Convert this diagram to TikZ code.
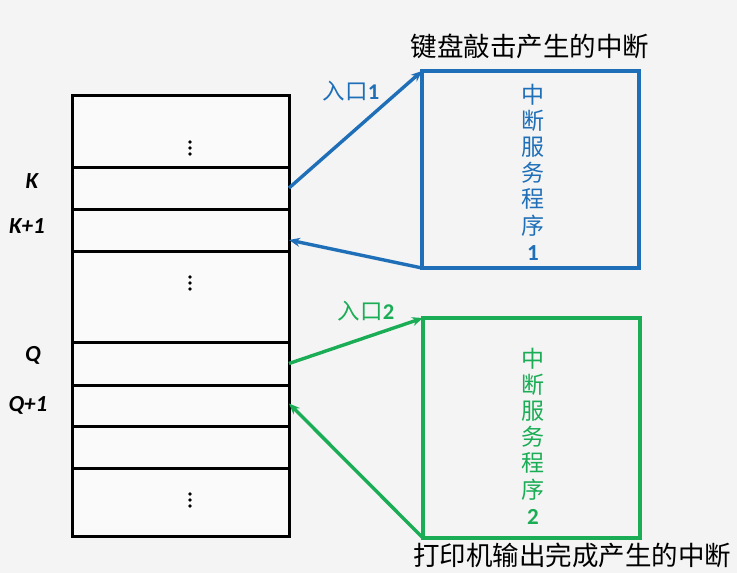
\documentclass[tikz,border=0pt]{standalone}
\usepackage{fontspec}
\newfontfamily\cjk{Noto Sans CJK SC}
\newfontfamily\calfont{Carlito}
\usetikzlibrary{arrows.meta}
\definecolor{ibl}{HTML}{1F6FB8}
\definecolor{igr}{HTML}{1AAD55}
\definecolor{bgc}{HTML}{F4F4F4}
\definecolor{cellc}{HTML}{FAFAFA}
\begin{document}
\begin{tikzpicture}[x=1pt,y=-1pt,
  rowbox/.style={draw=black, line width=3pt, fill=cellc, minimum width=217pt,
    anchor=north west, inner sep=0pt, outer sep=0pt},
  isrbox/.style={line width=3.4pt, minimum width=217pt, anchor=north west,
    inner sep=0pt, outer sep=0pt},
  addr/.style={font=\calfont\bfseries\itshape\fontsize{23}{25}\selectfont, anchor=center},
  vtext/.style={align=center, font=\cjk\fontsize{23}{26.2}\selectfont, anchor=center},
  caption/.style={font=\cjk\fontsize{26.5}{29}\selectfont, anchor=center},
  entry/.style={font=\fontsize{22.5}{24}\selectfont, anchor=center},
  arr/.style={line width=3.4pt, -{Stealth[length=11pt,width=9pt]}},
  dotc/.style={fill=black}
]
\useasboundingbox[fill=bgc] (0,0) rectangle (737,573);

% table rows
\node[rowbox, minimum height=72pt] (r1) at (72,95) {};
\node[rowbox, minimum height=42pt] (r2) at (72,167) {};
\node[rowbox, minimum height=42pt] (r3) at (72,209) {};
\node[rowbox, minimum height=91pt] (r4) at (72,251) {};
\node[rowbox, minimum height=43pt] (r5) at (72,342) {};
\node[rowbox, minimum height=41pt] (r6) at (72,385) {};
\node[rowbox, minimum height=42pt] (r7) at (72,426) {};
\node[rowbox, minimum height=68pt] (r8) at (72,468) {};

% vertical dots
\foreach \yy in {148,283,500}{
  \fill[dotc] (190,\yy-6) circle (1.8pt);
  \fill[dotc] (190,\yy) circle (1.8pt);
  \fill[dotc] (190,\yy+6) circle (1.8pt);
}

% address labels
\node[addr] (lk) at (32,181) {K};
\node[addr] (lk1) at (27,226) {K+1};
\node[addr] (lq) at (33,355) {Q};
\node[addr] (lq1) at (28,405) {Q+1};

% ISR boxes
\node[isrbox, draw=ibl, minimum height=197pt] (b1) at (422,71) {};
\node[isrbox, draw=igr, minimum height=220pt] (b2) at (423,318) {};

\node[vtext, text=ibl] (t1) at (533,172) {中\\断\\服\\务\\程\\序\\{\calfont\bfseries 1}};
\node[vtext, text=igr] (t2) at (533,436) {中\\断\\服\\务\\程\\序\\{\calfont\bfseries 2}};

% captions
\node[caption] (c1) at (530,46) {键盘敲击产生的中断};
\node[caption] (c2) at (572,555) {打印机输出完成产生的中断};

% entry labels
\node[entry, text=ibl] (e1) at (351,91) {{\cjk 入口}{\calfont\bfseries 1}};
\node[entry, text=igr] (e2) at (366,311) {{\cjk 入口}{\calfont\bfseries 2}};

% arrows
\draw[arr, ibl] (r2.east) -- (b1.north west);
\draw[arr, ibl] (b1.south west) -- ([yshift=-10pt]r3.east);
\draw[arr, igr] (r5.east) -- (b2.north west);
\draw[arr, igr] (b2.south west) -- ([yshift=2pt]r6.east);
\end{tikzpicture}
\end{document}
